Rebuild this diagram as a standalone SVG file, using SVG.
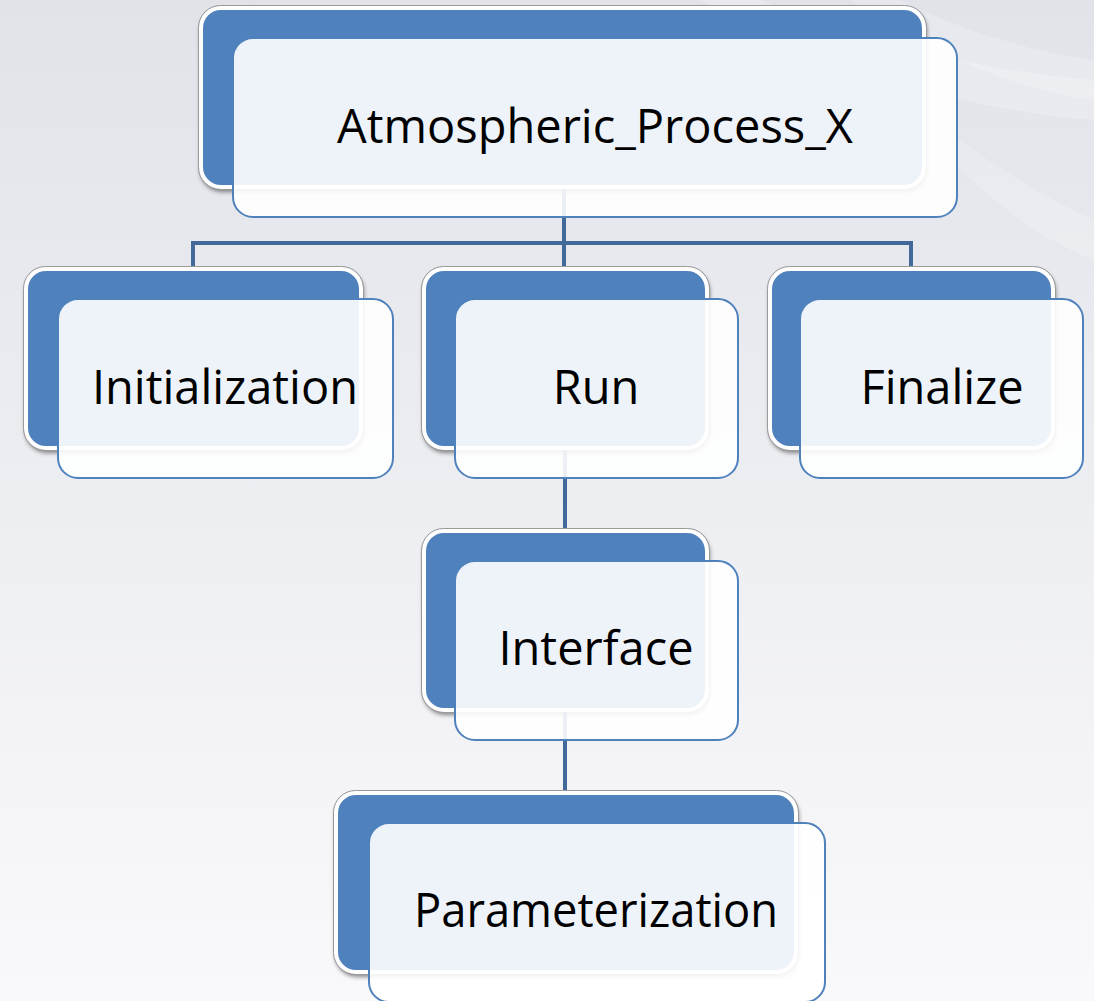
<svg xmlns="http://www.w3.org/2000/svg" width="1094" height="1001" viewBox="0 0 1094 1001">
  <defs>
    <linearGradient id="bg" x1="0" y1="0" x2="0" y2="1">
      <stop offset="0" stop-color="#E1E3E9"/>
      <stop offset="0.5" stop-color="#EDEEF2"/>
      <stop offset="1" stop-color="#F9F9FB"/>
    </linearGradient>
    <filter id="shadow" x="-10%" y="-10%" width="120%" height="130%">
      <feDropShadow dx="1" dy="3" stdDeviation="2" flood-color="#000" flood-opacity="0.45"/>
    </filter>
    <style>
      .back { fill: #4F81BD; stroke: #FFFFFF; stroke-width: 4; filter: url(#shadow); }
      .backline { fill: none; stroke: #9A9A9A; stroke-width: 1; }
      .front { fill: #FFFFFF; fill-opacity: 0.9; stroke: #4F81BD; stroke-width: 2; }
      .label { font-family: "Open Sans", "Noto Sans", sans-serif; font-size: 47px; fill: #000000; text-anchor: middle; }
      .conn { fill: none; stroke: #41699A; stroke-width: 4; }
    </style>
  </defs>

  <rect x="0" y="0" width="1094" height="1001" fill="url(#bg)"/>
  <path d="M700,0 C820,60 950,110 1094,120 L1094,80 C960,70 840,30 760,0 Z" fill="#FFFFFF" opacity="0.22"/>
  <path d="M850,0 C930,50 1010,90 1094,100 L1094,60 C1020,50 950,25 900,0 Z" fill="#FFFFFF" opacity="0.2"/>
  <path d="M940,150 C990,200 1040,240 1094,260 L1094,220 C1050,200 1000,170 960,140 Z" fill="#FFFFFF" opacity="0.18"/>

  <g id="node-atmospheric-back">
    <rect class="back" x="201" y="8" width="723" height="179" rx="20"/>
    <rect class="backline" x="198.5" y="5.5" width="728" height="184" rx="22"/>
  </g>
  <g id="node-initialization-back">
    <rect class="back" x="26" y="269" width="335" height="179" rx="20"/>
    <rect class="backline" x="23.5" y="266.5" width="340" height="184" rx="22"/>
  </g>
  <g id="node-run-back">
    <rect class="back" x="424" y="269" width="283" height="179" rx="20"/>
    <rect class="backline" x="421.5" y="266.5" width="288" height="184" rx="22"/>
  </g>
  <g id="node-finalize-back">
    <rect class="back" x="770" y="269" width="283" height="179" rx="20"/>
    <rect class="backline" x="767.5" y="266.5" width="288" height="184" rx="22"/>
  </g>
  <g id="node-interface-back">
    <rect class="back" x="424" y="531" width="283" height="179" rx="20"/>
    <rect class="backline" x="421.5" y="528.5" width="288" height="184" rx="22"/>
  </g>
  <g id="node-parameterization-back">
    <rect class="back" x="336" y="793" width="460" height="179" rx="20"/>
    <rect class="backline" x="333.5" y="790.5" width="465" height="184" rx="22"/>
  </g>

  <g id="connectors">
    <path class="conn" d="M564,189 V266"/>
    <path class="conn" d="M193,266 V243 H911 V266"/>
    <path class="conn" d="M565,450 V528"/>
    <path class="conn" d="M565,712 V790"/>
  </g>

  <g id="node-atmospheric">
    <rect class="front" x="233" y="38" width="724" height="179" rx="20"/>
    <text class="label" x="595" y="143">Atmospheric_Process_X</text>
  </g>
  <g id="node-initialization">
    <rect class="front" x="58" y="299" width="335" height="179" rx="20"/>
    <text class="label" x="225" y="404">Initialization</text>
  </g>
  <g id="node-run">
    <rect class="front" x="455" y="299" width="283" height="179" rx="20"/>
    <text class="label" x="596" y="404">Run</text>
  </g>
  <g id="node-finalize">
    <rect class="front" x="800" y="299" width="283" height="179" rx="20"/>
    <text class="label" x="942" y="404">Finalize</text>
  </g>
  <g id="node-interface">
    <rect class="front" x="455" y="561" width="283" height="179" rx="20"/>
    <text class="label" x="596" y="665">Interface</text>
  </g>
  <g id="node-parameterization">
    <rect class="front" x="369" y="823" width="456" height="179" rx="20"/>
    <text class="label" x="596" y="927" textLength="364" lengthAdjust="spacingAndGlyphs">Parameterization</text>
  </g>
</svg>
